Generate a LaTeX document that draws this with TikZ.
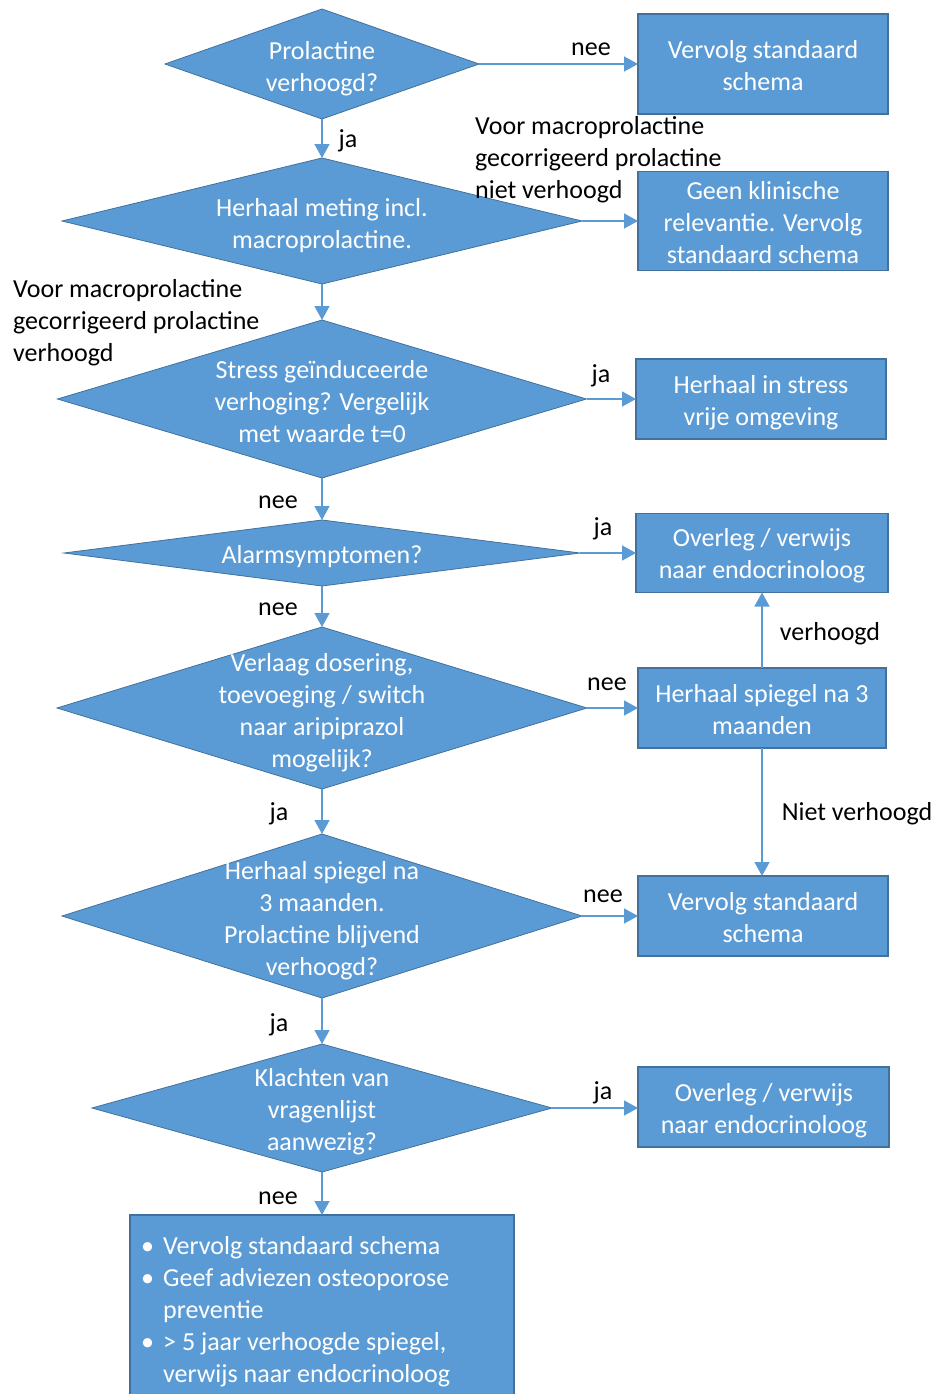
\documentclass[tikz,border=0pt]{standalone}
\usepackage{fontspec}
\setmainfont{Carlito}
\usetikzlibrary{shapes.geometric,arrows.meta}
\definecolor{bfill}{HTML}{5B9BD5}
\definecolor{bdraw}{HTML}{41719C}
\definecolor{arrc}{HTML}{5B9BD5}
\tikzset{
  txt/.style={font=\fontsize{26}{32}\selectfont},
  dia/.style={diamond, fill=bfill, draw=bdraw, line width=0.8pt, inner sep=0pt, outer sep=0pt},
  dtext/.style={txt, text=white, align=center, inner sep=0pt},
  boxn/.style={rectangle, fill=bfill, draw=bdraw, line width=1.5pt, inner sep=0pt, outer sep=0pt},
  lbl/.style={txt, text=black, inner sep=0pt, text height=18pt, text depth=6pt},
  mlbl/.style={txt, text=black, inner sep=0pt, align=left, anchor=west},
  arr/.style={draw=arrc, line width=1.5pt, -{Triangle[length=14pt,width=15pt]}}
}
\begin{document}
\begin{tikzpicture}[x=1pt,y=-1pt]
\clip (0,0) rectangle (938,1394);
\fill[white] (0,0) rectangle (938,1394);

% diamonds
\node[dia, minimum width=314pt, minimum height=110pt] (d1) at (322,64) {};
\node[dtext] (d1t) at (322,69) {Prolactine\\verhoogd?};
\node[dia, minimum width=520pt, minimum height=126pt] (d2) at (322,221) {};
\node[dtext] (d2t) at (322,226) {Herhaal meting incl.\\macroprolactine.};
\node[dia, minimum width=529pt, minimum height=158pt] (d3) at (322,399) {};
\node[dtext] (d3t) at (322,402) {Stress geïnduceerde\\verhoging? Vergelijk\\met waarde t=0};
\node[dia, minimum width=516pt, minimum height=66pt] (d4) at (322,553) {};
\node[dtext] (d4t) at (322,557) {Alarmsymptomen?};
\node[dia, minimum width=530pt, minimum height=162pt] (d5) at (322,708) {};
\node[dtext] (d5t) at (322,713) {Verlaag dosering,\\toevoeging / switch\\naar aripiprazol\\mogelijk?};
\node[dia, minimum width=520pt, minimum height=164pt] (d6) at (322,916) {};
\node[dtext] (d6t) at (322,921) {Herhaal spiegel na\\3 maanden.\\Prolactine blijvend\\verhoogd?};
\node[dia, minimum width=460pt, minimum height=128pt] (d7) at (322,1108) {};
\node[dtext] (d7t) at (322,1112) {Klachten van\\vragenlijst\\aanwezig?};

% boxes
\node[boxn, minimum width=250pt, minimum height=100pt] (b1) at (763,64) {};
\node[dtext] (b1t) at (763,66) {Vervolg standaard\\schema};
\node[boxn, minimum width=250pt, minimum height=99pt] (b2) at (763,221) {};
\node[dtext] (b2t) at (763,223) {Geen klinische\\relevantie. Vervolg\\standaard schema};
\node[boxn, minimum width=250pt, minimum height=80pt] (b3) at (761,399) {};
\node[dtext] (b3t) at (761,403) {Herhaal in stress\\vrije omgeving};
\node[boxn, minimum width=252pt, minimum height=79pt] (b4) at (762,553) {};
\node[dtext] (b4t) at (762,556) {Overleg / verwijs\\naar endocrinoloog};
\node[boxn, minimum width=248pt, minimum height=80pt] (b5) at (762,708) {};
\node[dtext] (b5t) at (762,710) {Herhaal spiegel na 3\\maanden};
\node[boxn, minimum width=250pt, minimum height=80pt] (b6) at (763,916) {};
\node[dtext] (b6t) at (763,918) {Vervolg standaard\\schema};
\node[boxn, minimum width=251pt, minimum height=80pt] (b7) at (763.5,1107) {};
\node[dtext] (b7t) at (764,1111) {Overleg / verwijs\\naar endocrinoloog};
\node[boxn, minimum width=384pt, minimum height=200pt, anchor=north] (b8) at (322,1215) {};
\node[txt, text=white, inner sep=0pt, align=left, anchor=north west] (b8t) at (141,1234) {%
\rule{0pt}{20pt}\makebox[22pt][l]{\textbullet}Vervolg standaard schema\\
\makebox[22pt][l]{\textbullet}Geef adviezen osteoporose\\
\hspace*{22pt}preventie\\
\makebox[22pt][l]{\textbullet}> 5 jaar verhoogde spiegel,\\
\hspace*{22pt}verwijs naar endocrinoloog};

% connectors
\draw[arr] (d1.east) -- (b1.west |- d1.east);
\draw[arr] (d1.south) -- (d2.north);
\draw[arr] (d2.east) -- (b2.west |- d2.east);
\draw[arr] (d2.south) -- (d3.north);
\draw[arr] (d3.east) -- (b3.west |- d3.east);
\draw[arr] (d3.south) -- (d4.north);
\draw[arr] (d4.east) -- (b4.west |- d4.east);
\draw[arr] (d4.south) -- (d5.north);
\draw[arr] (d5.east) -- (b5.west |- d5.east);
\draw[arr] (b5.north) -- (b5.north |- b4.south);
\draw[arr] (b5.south) -- (b5.south |- b6.north);
\draw[arr] (d5.south) -- (d6.north);
\draw[arr] (d6.east) -- (b6.west |- d6.east);
\draw[arr] (d6.south) -- (d7.north);
\draw[arr] (d7.east) -- (b7.west |- d7.east);
\draw[arr] (d7.south) -- (b8.north);

% labels
\node[lbl] (l1) at (591,50) {nee};
\node[lbl] (l2) at (348,141) {ja};
\node[mlbl] (l3) at (475,160) {Voor macroprolactine\\gecorrigeerd prolactine\\niet verhoogd};
\node[mlbl] (l4) at (13,323) {Voor macroprolactine\\gecorrigeerd prolactine\\verhoogd};
\node[lbl] (l5) at (601,376) {ja};
\node[lbl] (l6) at (278,502) {nee};
\node[lbl] (l7) at (603,529) {ja};
\node[lbl] (l8) at (278,609) {nee};
\node[lbl] (l9) at (607,684) {nee};
\node[lbl] (l10) at (830,634) {verhoogd};
\node[lbl] (l11) at (857,814) {Niet verhoogd};
\node[lbl] (l12) at (279,814) {ja};
\node[lbl] (l13) at (603,896) {nee};
\node[lbl] (l14) at (279,1025) {ja};
\node[lbl] (l15) at (603,1093) {ja};
\node[lbl] (l16) at (278,1198) {nee};
\end{tikzpicture}
\end{document}
